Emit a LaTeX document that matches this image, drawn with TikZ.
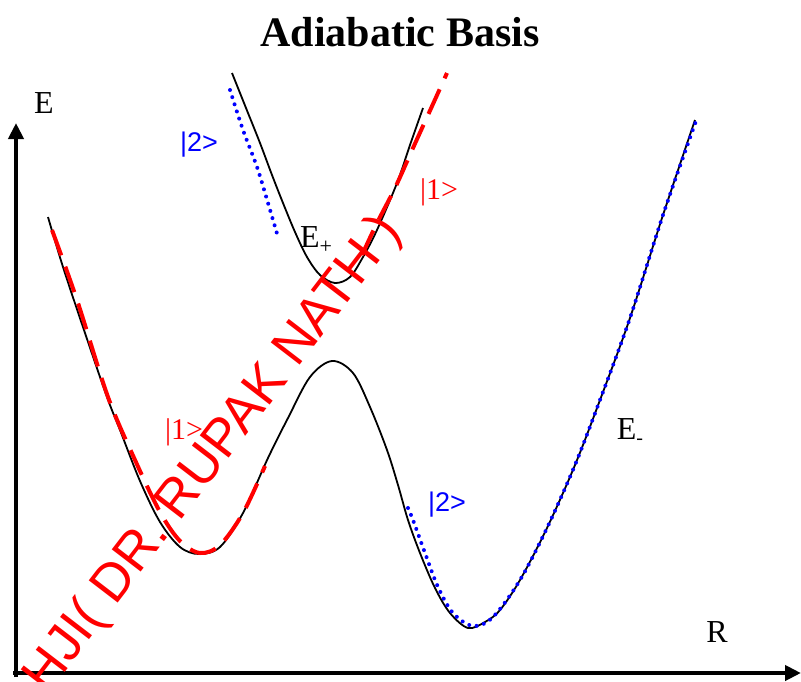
\documentclass[tikz,border=0pt]{standalone}
\usepackage{fontspec}
\setmainfont{Liberation Serif}
\newfontfamily\sansf{Liberation Sans}
\usetikzlibrary{arrows.meta}
\definecolor{kblue}{RGB}{0,0,255}
\definecolor{kred}{RGB}{255,0,0}
\tikzset{
  axisline/.style={line width=4pt,-{Triangle[length=16pt,width=15pt]}},
  curve/.style={line width=1.8pt,black},
  diab1/.style={line width=4pt,kred,dash pattern=on 27pt off 12pt},
  diab2/.style={line width=4pt,kblue,line cap=round,dash pattern=on 0pt off 7.5pt},
  lab/.style={inner sep=0pt,font=\fontsize{32}{38}\selectfont},
  ketblue/.style={inner sep=0pt,text=kblue,font=\sansf\fontsize{27}{30}\selectfont},
  ketred/.style={inner sep=0pt,text=kred,font=\fontsize{30}{34}\selectfont},
}
\begin{document}
\begin{tikzpicture}[x=1pt,y=-1pt]
\useasboundingbox (0,0) rectangle (801,681);
\fill[white] (0,0) rectangle (801,681);
% title
\node[inner sep=0pt,font=\bfseries\fontsize{42}{48}\selectfont] (title) at (400,32) {Adiabatic Basis};
% axes
\coordinate (o1) at (16,677);
\coordinate (ytip) at (16,123);
\coordinate (o2) at (13,673);
\coordinate (xtip) at (801,673);
\draw[axisline] (o1) -- (ytip);
\draw[axisline] (o2) -- (xtip);
\node[lab] (Elab) at (44,103) {E};
\node[lab] (Rlab) at (717,632) {R};
% lower adiabatic curve
\draw[curve] plot[smooth,tension=0.55] coordinates {
 (48,217) (63,267) (85,333) (107,397) (120,430) (140,481) (160,522) (180,547)
 (199,554) (220,547) (243,513) (268,458) (288,418) (310,377) (332,361)
 (353,373) (370,407) (387,450) (398,485) (408,520) (420,553) (435,588)
 (450,613) (468,628) (485,622) (500,610) (520,580) (547,528) (575,465)
 (600,400) (630,318) (663,215) (695,120)};
% upper adiabatic curve
\draw[curve] plot[smooth,tension=0.55] coordinates {
 (232,73) (246,108) (260,143) (272,175) (283,203) (295,232) (307,257)
 (320,275) (335,283) (350,277) (363,257) (377,230) (397,183) (410,145) (423,108)};
% diabatic |1>
\draw[diab1] plot[smooth,tension=0.55] coordinates {
 (52,230) (77,300) (108,397) (135,460) (160,512) (180,541) (200,553)
 (220,545) (243,513) (265,466)};
\draw[diab1] plot[smooth,tension=0.55] coordinates {
 (362,255) (377,223) (395,188) (413,148) (433,104) (447,73)};
% diabatic |2>
\draw[diab2] plot[smooth,tension=0.55] coordinates {
 (230,90) (243,130) (257,167) (268,203) (278,237)};
\draw[diab2] plot[smooth,tension=0.55] coordinates {
 (408,508) (413,520) (425,553) (438,587) (453,613) (473,626) (493,617)
 (520,580) (547,528) (575,465) (600,400) (630,318) (663,215) (696,121)};
% labels
\node[lab] (Eplus) at (316,240) {E\raisebox{-6pt}{\fontsize{22}{22}\selectfont +}};
\node[lab] (Eminus) at (630,432) {E\raisebox{-5pt}{\fontsize{20}{20}\selectfont -}};
\node[ketblue] (k2a) at (199,145) {|2>};
\node[ketblue] (k2b) at (447,505) {|2>};
\node[ketred] (k1a) at (439,192) {|1>};
\node[ketred] (k1b) at (184,432) {|1>};
% watermark
\begin{scope}
\clip (0,0) rectangle (801,681);
\node[inner sep=0pt,text=kred,rotate=52.5,font=\sansf\fontsize{53}{60}\selectfont] (wm) at (214,455) {HJI( DR. RUPAK NATH )};
\end{scope}
\end{tikzpicture}
\end{document}
